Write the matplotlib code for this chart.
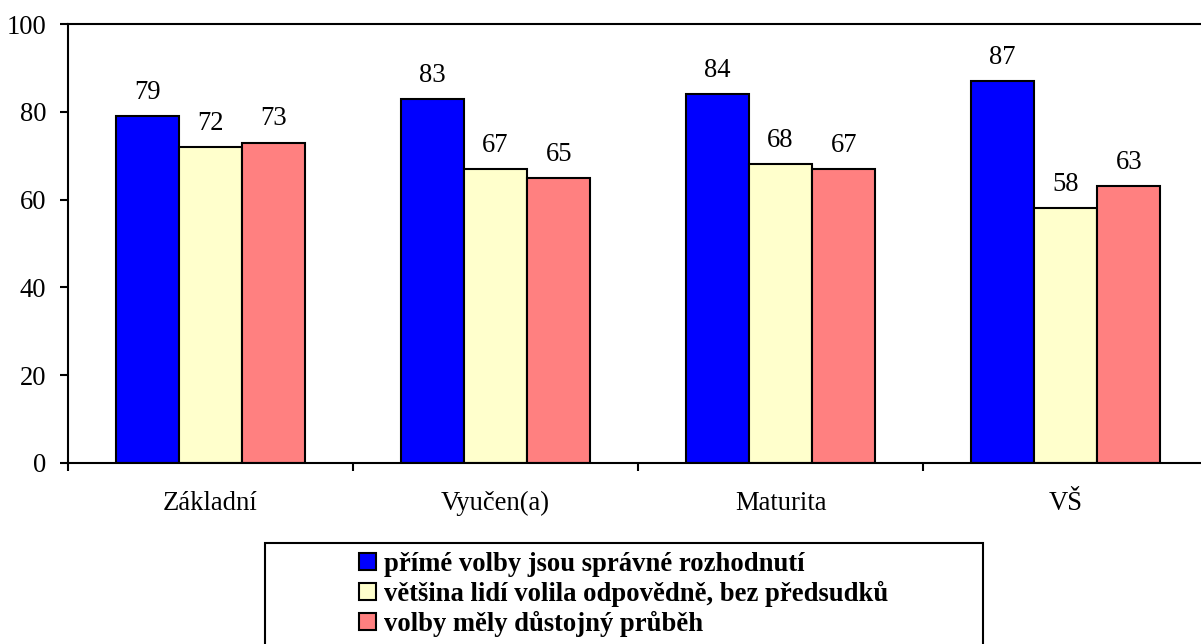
#!/usr/bin/env python3
import numpy as np
import matplotlib
matplotlib.use('Agg')
import matplotlib.pyplot as plt
from matplotlib.patches import Rectangle, Patch

categories = ['Základní', 'Vyučen(a)', 'Maturita', 'VŠ']
series_names = ['přímé volby jsou správné rozhodnutí',
                'většina lidí volila odpovědně, bez předsudků',
                'volby měly důstojný průběh']
primo = [79, 83, 84, 87]
odpovedne = [72, 67, 68, 58]
dustojne = [73, 65, 67, 63]
colors = ['#0000FF', '#FFFFCC', '#FF8080']
yticks = [0, 20, 40, 60, 80, 100]


def main():
    plt.rcParams['font.family'] = ['Liberation Serif', 'DejaVu Serif']
    fs = 19.2
    W, H = 1201, 644
    fig = plt.figure(figsize=(W / 100, H / 100), dpi=100)
    ax = fig.add_axes([68 / W, (H - 463) / H, 1140 / W, (463 - 24) / H])

    x = np.arange(len(categories))
    bw = 0.222
    series = [primo, odpovedne, dustojne]
    for i, (vals, col) in enumerate(zip(series, colors)):
        pos = x + (i - 1) * bw
        ax.bar(pos, vals, bw, color=col, edgecolor='black', linewidth=1.5, zorder=2)
        for px, v in zip(pos, vals):
            ax.annotate(str(v), (px, v), xytext=(0, 8), textcoords='offset points',
                        ha='center', va='bottom', fontsize=fs)

    ax.set_xlim(-0.5, 3.5)
    ax.set_ylim(0, 100)
    ax.set_yticks(yticks)
    ax.set_xticks(x)
    ax.set_xticklabels(categories)
    ax.set_xticks(np.arange(-0.5, 4, 1), minor=True)
    ax.tick_params(axis='x', which='major', length=0, pad=20, labelsize=fs)
    ax.tick_params(axis='x', which='minor', length=5.5, width=1.5, direction='out')
    ax.tick_params(axis='y', length=5.5, width=1.5, direction='out', pad=10, labelsize=fs)
    for s in ax.spines.values():
        s.set_linewidth(1.5)

    # legend frame (wider than the text, cut by the lower edge)
    fig.patches.append(Rectangle((265 / W, -20 / H), (983 - 265) / W, (H - 543 + 20) / H,
                                 transform=fig.transFigure, fill=False,
                                 edgecolor='black', linewidth=1.5))
    handles = [Patch(facecolor=c, edgecolor='black', linewidth=1.5) for c in colors]
    fig.legend(handles, series_names, loc='upper left',
               bbox_to_anchor=(359 / W, (H - 552) / H), frameon=False,
               prop={'weight': 'bold', 'size': fs}, handlelength=0.63, handleheight=0.63,
               handletextpad=0.3, labelspacing=0.14, borderpad=0, borderaxespad=0)

    fig.savefig('out.png', dpi=100)
    plt.close(fig)


if __name__ == '__main__':
    main()
